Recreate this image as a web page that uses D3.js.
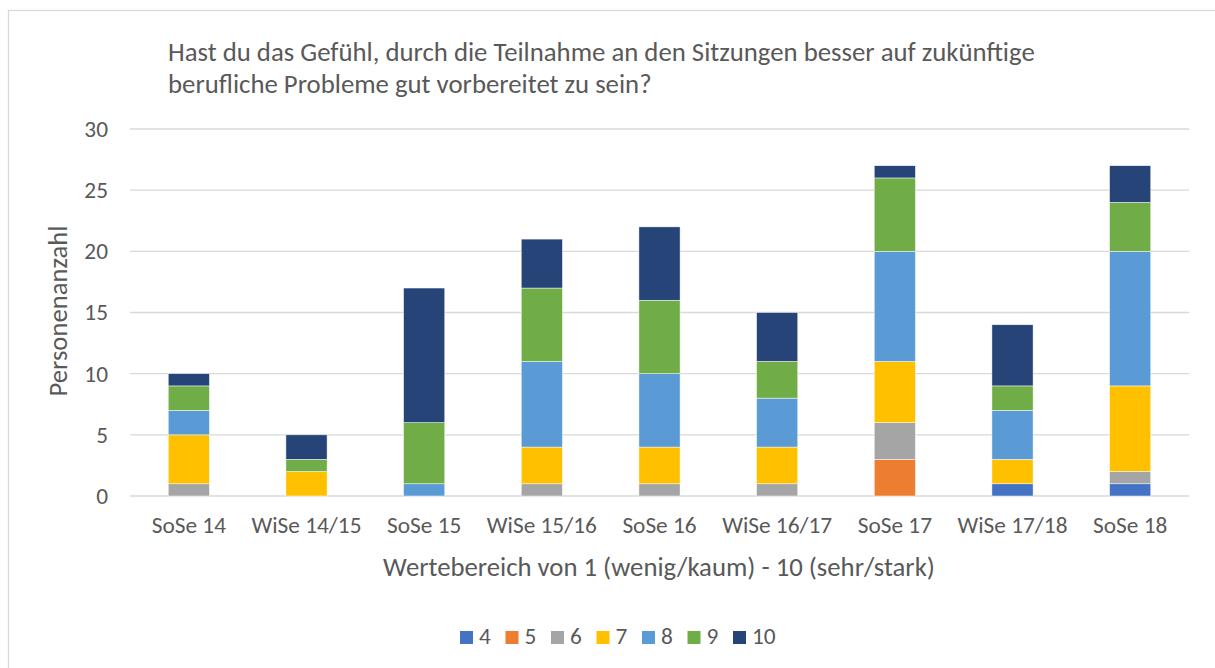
<!DOCTYPE html>
<html lang="de">
<head>
  <meta charset="UTF-8">
  <title>Personenanzahl</title>
  <script src="https://d3js.org/d3.v7.min.js"></script>
  <style>
    body { margin: 0; background: #fff; }
    text { font-family: Carlito, "Open Sans", "Noto Sans", sans-serif; fill: #595959; }
    .grid line { stroke: #d9d9d9; stroke-width: 1.3px; }
  </style>
</head>
<body>
  <svg id="chart" width="1215" height="668"></svg>
  <script>
    // semester categories
    const categories = ["SoSe 14", "WiSe 14/15", "SoSe 15", "WiSe 15/16", "SoSe 16",
                        "WiSe 16/17", "SoSe 17", "WiSe 17/18", "SoSe 18"];
    // answer scores, one array per score
    const scores = ["4", "5", "6", "7", "8", "9", "10"];
    const s4  = [0, 0, 0, 0, 0, 0, 0, 1, 1];
    const s5  = [0, 0, 0, 0, 0, 0, 3, 0, 0];
    const s6  = [1, 0, 0, 1, 1, 1, 3, 0, 1];
    const s7  = [4, 2, 0, 3, 3, 3, 5, 2, 7];
    const s8  = [2, 0, 1, 7, 6, 4, 9, 4, 11];
    const s9  = [2, 1, 5, 6, 6, 3, 6, 2, 4];
    const s10 = [1, 2, 11, 4, 6, 4, 1, 5, 3];
    const colors = ["#4472C4", "#ED7D31", "#A5A5A5", "#FFC000", "#5B9BD5", "#70AD47", "#264478"];
    const yTicks = [0, 5, 10, 15, 20, 25, 30];

    const seriesValues = [s4, s5, s6, s7, s8, s9, s10];
    const rows = categories.map((c, i) => {
      const r = { cat: c };
      scores.forEach((s, j) => r[s] = seriesValues[j][i]);
      return r;
    });

    const svg = d3.select("#chart");
    const plot = { left: 130, right: 1189, top: 129, bottom: 496 };

    // fit a text element to a target width
    function fit(sel, target) {
      const w = sel.node().getComputedTextLength();
      const fs = parseFloat(sel.attr("font-size"));
      sel.attr("font-size", fs * target / w);
    }

    svg.append("rect")
      .attr("x", 8.5).attr("y", 10.5)
      .attr("width", 1220).attr("height", 670)
      .attr("fill", "#fff").attr("stroke", "#d9d9d9").attr("stroke-width", 1.3);

    const x = d3.scaleBand().domain(categories).range([plot.left, plot.right])
      .paddingInner(0.65).paddingOuter(0.325);
    const y = d3.scaleLinear().domain([0, 30]).range([plot.bottom, plot.top]);
    const color = d3.scaleOrdinal().domain(scores).range(colors);

    // gridlines
    svg.append("g").attr("class", "grid")
      .selectAll("line").data(yTicks).join("line")
      .attr("x1", plot.left).attr("x2", plot.right)
      .attr("y1", d => y(d)).attr("y2", d => y(d));

    // y tick labels
    const yAxis = svg.append("g")
      .attr("transform", `translate(${plot.left},0)`)
      .call(d3.axisLeft(y).tickValues(yTicks).tickSize(0).tickPadding(22));
    yAxis.select(".domain").remove();
    yAxis.selectAll("text").attr("font-size", 18).attr("font-family", null).attr("fill", null);

    // stacked bars
    const stacked = d3.stack().keys(scores)(rows);
    svg.append("g").selectAll("g").data(stacked).join("g")
      .attr("fill", d => color(d.key))
      .selectAll("rect").data(d => d).join("rect")
      .attr("x", d => x(d.data.cat))
      .attr("width", x.bandwidth())
      .attr("y", d => y(d[1]))
      .attr("height", d => y(d[0]) - y(d[1]))
      .attr("stroke", "#fff").attr("stroke-width", 0.6)
      .attr("stroke-opacity", d => d[1] > d[0] ? 0.8 : 0);

    // x tick labels
    const xAxis = svg.append("g")
      .attr("transform", `translate(0,${plot.bottom})`)
      .call(d3.axisBottom(x).tickSize(0).tickPadding(20));
    xAxis.select(".domain").remove();
    xAxis.selectAll("text").attr("font-size", 18).attr("font-family", null).attr("fill", null);
    // scale tick font to match label widths
    const sample = xAxis.selectAll("text").filter(d => d === "WiSe 14/15");
    fit(sample, 110);
    const tickFs = sample.attr("font-size");
    xAxis.selectAll("text").attr("font-size", tickFs);
    yAxis.selectAll("text").attr("font-size", tickFs);

    // title
    const t1 = svg.append("text").attr("x", 168).attr("y", 61).attr("font-size", 20)
      .text("Hast du das Gefühl, durch die Teilnahme an den Sitzungen besser auf zukünftige");
    fit(t1, 867);
    svg.append("text").attr("x", 168).attr("y", 93).attr("font-size", t1.attr("font-size"))
      .text("berufliche Probleme gut vorbereitet zu sein?");

    // axis titles
    const xt = svg.append("text").attr("x", 659).attr("y", 576).attr("text-anchor", "middle")
      .attr("font-size", 20).text("Wertebereich von 1 (wenig/kaum) - 10 (sehr/stark)");
    fit(xt, 552);
    const yt = svg.append("text").attr("transform", "translate(67,311) rotate(-90)")
      .attr("text-anchor", "middle").attr("font-size", 20).text("Personenanzahl");
    fit(yt, 171);

    // legend
    const lx = d3.scalePoint().domain(scores).range([460, 733]);
    const leg = svg.append("g").selectAll("g").data(scores).join("g")
      .attr("transform", d => `translate(${lx(d)},631)`);
    leg.append("rect").attr("width", 13).attr("height", 13).attr("fill", d => color(d));
    leg.append("text").attr("x", 19).attr("y", 12.5).attr("font-size", tickFs).text(d => d);
  </script>
</body>
</html>
